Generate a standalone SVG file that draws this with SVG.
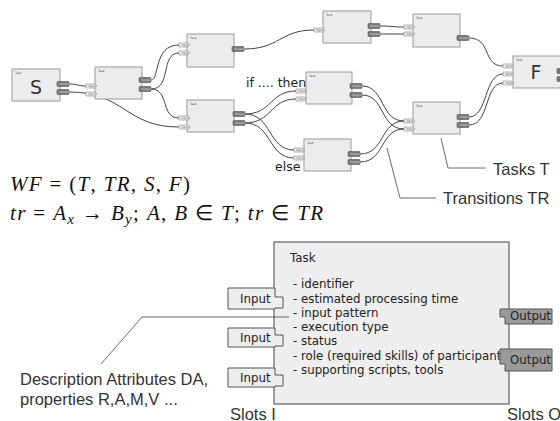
<svg xmlns="http://www.w3.org/2000/svg" width="560" height="421" viewBox="0 0 560 421">
<style>
.box{fill:#ececec;stroke:#9a9a9a;stroke-width:1}
.inp{fill:#f6f6f6;stroke:#808080;stroke-width:0.6}
.out{fill:#777;stroke:#555;stroke-width:0.6}
.tiny{font-family:"DejaVu Sans",sans-serif;font-size:3px;fill:#555}
.tinyw{font-family:"DejaVu Sans",sans-serif;font-size:3px;fill:#ddd}
.big{font-family:"DejaVu Sans",sans-serif;font-size:19px;fill:#333}
.conn path{fill:none;stroke:#444;stroke-width:1}
.lead{fill:none;stroke:#444;stroke-width:0.8}
.lbl{font-family:"Liberation Sans",Arial,sans-serif;font-size:16.5px;fill:#333}
.mid{font-family:"DejaVu Sans",sans-serif;font-size:12.5px;fill:#222}
.math{font-family:"Liberation Serif","Times New Roman",serif;font-size:21px;fill:#111}
.it{font-style:italic}
.tb{fill:#eeeeee;stroke:#555;stroke-width:1.1}
.ti{fill:#eeeeee;stroke:#555;stroke-width:1}
.to{fill:#9a9a9a;stroke:#555;stroke-width:1}
.tt{font-family:"DejaVu Sans",sans-serif;font-size:11.8px;fill:#222}
</style>

<g class="conn" id="connectors">
<path d="M69 84 C78 84 77 86 86 86"/>
<path d="M69 92 C125 92 125 127 179 127"/>
<path d="M151 80 C160 80 153 45 179 45"/>
<path d="M151 89 C172 89 160 53 179 53"/>
<path d="M151 89 C170 89 160 118 179 118"/>
<path d="M244 49 C280 49 280 30 314 30"/>
<path d="M380 26 C392 26 392 27 404 27"/>
<path d="M380 34 L404 34"/>
<path d="M469 38 C492 38 482 66 503 66"/>
<path d="M245 114 C272 114 270 91 296 91"/>
<path d="M245 114 C272 114 268 150 294 150"/>
<path d="M245 123 C272 123 270 99 296 99"/>
<path d="M245 123 C272 123 268 158 294 158"/>
<path d="M362 86 C385 86 380 121 404 121"/>
<path d="M362 95 C385 95 380 129 404 129"/>
<path d="M360 154 C385 154 380 121 404 121"/>
<path d="M360 162 C385 162 380 129 404 129"/>
<path d="M469 117 C488 117 484 74 503 74"/>
<path d="M469 125 C490 125 484 83 503 83"/>
</g>

<g id="taskS">
<rect class="box" x="12" y="69" width="48" height="32"/>
<text class="tiny" x="15" y="74">Task</text>
<text class="big" x="36" y="94" text-anchor="middle">S</text>
<rect class="out" x="57" y="81.5" width="12" height="5" rx="1"/><text class="tinyw" x="59" y="85">Output</text>
<rect class="out" x="57" y="89.5" width="12" height="5" rx="1"/><text class="tinyw" x="59" y="93">Output</text>
</g>

<g id="task2">
<rect class="box" x="95" y="67" width="47" height="32"/>
<text class="tiny" x="98" y="72">Task</text>
<path class="inp" d="M86 84 H95 L97 86 L95 88 H86 Z"/><text class="tiny" x="88" y="87">Input</text>
<path class="inp" d="M86 92 H95 L97 94 L95 96 H86 Z"/><text class="tiny" x="88" y="95">Input</text>
<rect class="out" x="139" y="77.5" width="12" height="5" rx="1"/><text class="tinyw" x="141" y="81">Output</text>
<rect class="out" x="139" y="86.5" width="12" height="5" rx="1"/><text class="tinyw" x="141" y="90">Output</text>
</g>

<g id="task3">
<rect class="box" x="187" y="34" width="47" height="33"/>
<text class="tiny" x="190" y="39">Task</text>
<path class="inp" d="M179 43 H188 L190 45 L188 47 H179 Z"/><text class="tiny" x="181" y="46">Input</text>
<path class="inp" d="M179 51 H188 L190 53 L188 55 H179 Z"/><text class="tiny" x="181" y="54">Input</text>
<rect class="out" x="232" y="46.5" width="12" height="5" rx="1"/><text class="tinyw" x="234" y="50">Output</text>
</g>

<g id="task4">
<rect class="box" x="187" y="100" width="47" height="32"/>
<text class="tiny" x="190" y="105">Task</text>
<path class="inp" d="M179 116 H188 L190 118 L188 120 H179 Z"/><text class="tiny" x="181" y="119">Input</text>
<path class="inp" d="M179 125 H188 L190 127 L188 129 H179 Z"/><text class="tiny" x="181" y="128">Input</text>
<rect class="out" x="233" y="111.5" width="12" height="5" rx="1"/><text class="tinyw" x="235" y="115">Output</text>
<rect class="out" x="233" y="120.5" width="12" height="5" rx="1"/><text class="tinyw" x="235" y="124">Output</text>
</g>

<g id="taskTop">
<rect class="box" x="323" y="11" width="48" height="32"/>
<text class="tiny" x="326" y="16">Task</text>
<path class="inp" d="M314 28 H323 L325 30 L323 32 H314 Z"/><text class="tiny" x="316" y="31">Input</text>
<rect class="out" x="368" y="23.5" width="12" height="5" rx="1"/><text class="tinyw" x="370" y="27">Output</text>
<rect class="out" x="368" y="31.5" width="12" height="5" rx="1"/><text class="tinyw" x="370" y="35">Output</text>
</g>

<g id="taskTopRight">
<rect class="box" x="413" y="14" width="47" height="33"/>
<text class="tiny" x="416" y="19">Task</text>
<path class="inp" d="M404 25 H413 L415 27 L413 29 H404 Z"/><text class="tiny" x="406" y="28">Input</text>
<path class="inp" d="M404 32 H413 L415 34 L413 36 H404 Z"/><text class="tiny" x="406" y="35">Input</text>
<rect class="out" x="457" y="35.5" width="12" height="5" rx="1"/><text class="tinyw" x="459" y="39">Output</text>
</g>

<g id="taskThen">
<rect class="box" x="306" y="72" width="46" height="32"/>
<text class="tiny" x="309" y="77">Task</text>
<path class="inp" d="M296 89 H305 L307 91 L305 93 H296 Z"/><text class="tiny" x="298" y="92">Input</text>
<path class="inp" d="M296 97 H305 L307 99 L305 101 H296 Z"/><text class="tiny" x="298" y="100">Input</text>
<rect class="out" x="350" y="83.5" width="12" height="5" rx="1"/><text class="tinyw" x="352" y="87">Output</text>
<rect class="out" x="350" y="92.5" width="12" height="5" rx="1"/><text class="tinyw" x="352" y="96">Output</text>
</g>

<g id="taskElse">
<rect class="box" x="304" y="139" width="47" height="32"/>
<text class="tiny" x="307" y="144">Task</text>
<path class="inp" d="M294 148 H303 L305 150 L303 152 H294 Z"/><text class="tiny" x="296" y="151">Input</text>
<path class="inp" d="M294 156 H303 L305 158 L303 160 H294 Z"/><text class="tiny" x="296" y="159">Input</text>
<rect class="out" x="348" y="151.5" width="12" height="5" rx="1"/><text class="tinyw" x="350" y="155">Output</text>
<rect class="out" x="348" y="159.5" width="12" height="5" rx="1"/><text class="tinyw" x="350" y="163">Output</text>
</g>

<g id="task5">
<rect class="box" x="413" y="102" width="47" height="32"/>
<text class="tiny" x="416" y="107">Task</text>
<path class="inp" d="M404 119 H413 L415 121 L413 123 H404 Z"/><text class="tiny" x="406" y="122">Input</text>
<path class="inp" d="M404 127 H413 L415 129 L413 131 H404 Z"/><text class="tiny" x="406" y="130">Input</text>
<rect class="out" x="457" y="114.5" width="12" height="5" rx="1"/><text class="tinyw" x="459" y="118">Output</text>
<rect class="out" x="457" y="122.5" width="12" height="5" rx="1"/><text class="tinyw" x="459" y="126">Output</text>
</g>

<g id="taskF">
<rect class="box" x="513" y="56" width="60" height="32"/>
<text class="tiny" x="516" y="61">Task</text>
<text class="big" x="536" y="79" text-anchor="middle">F</text>
<path class="inp" d="M503 64 H512 L514 66 L512 68 H503 Z"/><text class="tiny" x="505" y="67">Input</text>
<path class="inp" d="M503 72 H512 L514 74 L512 76 H503 Z"/><text class="tiny" x="505" y="75">Input</text>
<path class="inp" d="M503 81 H512 L514 83 L512 85 H503 Z"/><text class="tiny" x="505" y="84">Input</text>
<rect class="out" x="557" y="68.5" width="12" height="5" rx="1"/>
<rect class="out" x="557" y="76.5" width="12" height="5" rx="1"/>
</g>

<g id="annotations">
<text class="mid" x="246" y="87">if .... then</text>
<text class="mid" x="275" y="171">else</text>
<path class="lead" d="M441 138 L448 168 L486 168"/>
<text class="lbl" x="493" y="175">Tasks T</text>
<path class="lead" d="M387 148 L400 198 L436 198"/>
<text class="lbl" x="443" y="204">Transitions TR</text>
</g>

<g id="formulas">
<text class="math" x="10" y="191" textLength="180" lengthAdjust="spacing"><tspan class="it">WF</tspan> = (<tspan class="it">T</tspan>, <tspan class="it">TR</tspan>, <tspan class="it">S</tspan>, <tspan class="it">F</tspan>)</text>
<text class="math" x="10" y="220" textLength="313" lengthAdjust="spacing"><tspan class="it">tr</tspan> = <tspan class="it">A</tspan><tspan class="it" font-size="15" dy="4">x</tspan><tspan dy="-4"> → </tspan><tspan class="it">B</tspan><tspan class="it" font-size="15" dy="4">y</tspan><tspan dy="-4">; </tspan><tspan class="it">A</tspan>, <tspan class="it">B</tspan> ∈ <tspan class="it">T</tspan>; <tspan class="it">tr</tspan> ∈ <tspan class="it">TR</tspan></text>
</g>

<g id="taskDetail">
<rect class="tb" x="274" y="242" width="235" height="162"/>
<text class="tt" x="290" y="262">Task</text>
<text class="tt" x="293" y="288">- identifier</text>
<text class="tt" x="293" y="303">- estimated processing time</text>
<text class="tt" x="293" y="317">- input pattern</text>
<text class="tt" x="293" y="331">- execution type</text>
<text class="tt" x="293" y="345">- status</text>
<text class="tt" x="293" y="360">- role (required skills) of participant</text>
<text class="tt" x="293" y="374">- supporting scripts, tools</text>
</g>

<g id="slotIn1">
<path class="ti" d="M228 288 H275 V297 H283 V308 H275 V309 H228 Z"/>
<text class="tt" x="240" y="303">Input</text>
</g>
<g id="slotIn2">
<path class="ti" d="M228 328 H275 V335 H283 V346 H275 V347 H228 Z"/>
<text class="tt" x="240" y="342">Input</text>
</g>
<g id="slotIn3">
<path class="ti" d="M228 368 H275 V375 H283 V386 H275 V387 H228 Z"/>
<text class="tt" x="240" y="382">Input</text>
</g>
<g id="slotOut1">
<path class="to" d="M500 309 H552 V324 H505 V317 H500 Z"/>
<text class="tt" x="510" y="320">Output</text>
</g>
<g id="slotOut2">
<path class="to" d="M500 349 H552 V371 H505 V364 H500 Z"/>
<text class="tt" x="510" y="364">Output</text>
</g>

<g id="labels">
<path class="lead" d="M101 364 L142 317 L289 317"/>
<text class="lbl" x="20" y="385">Description Attributes DA,</text>
<text class="lbl" x="20" y="405">properties R,A,M,V ...</text>
<text class="lbl" x="230" y="420">Slots I</text>
<text class="lbl" x="507" y="420">Slots O</text>
</g>
</svg>
